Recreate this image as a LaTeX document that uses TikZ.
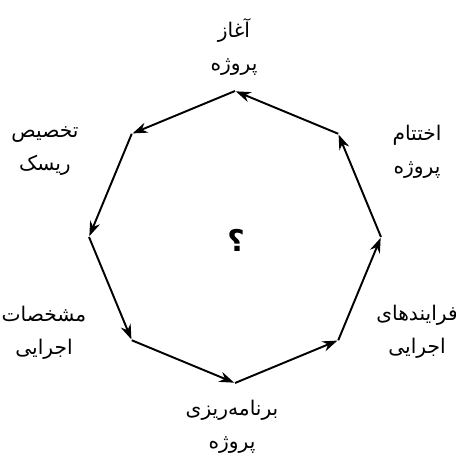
\documentclass[tikz,border=0pt]{standalone}
\usepackage{fontspec}
\newfontfamily\arabicfont[Script=Arabic]{DejaVu Sans}
\TeXXeTstate=1
\usetikzlibrary{arrows.meta}

\begin{document}
\begin{tikzpicture}[
    stage/.style={align=center, font=\arabicfont\fontsize{11.5}{18.5}\selectfont, inner sep=0pt},
    arr/.style={-{Stealth[length=8.5pt,width=6pt]}, line width=1.1pt, shorten >=0.5pt}
]
\useasboundingbox (-4.70,-4.34) rectangle (4.42,4.74);

% corners of the cycle
\coordinate (T) at (0,2.92);
\coordinate (UL) at (-2.065,2.065);
\coordinate (L) at (-2.92,0);
\coordinate (LL) at (-2.065,-2.065);
\coordinate (B) at (0,-2.92);
\coordinate (LR) at (2.065,-2.065);
\coordinate (R) at (2.92,0);
\coordinate (UR) at (2.065,2.065);

\node[stage] (start) at (-0.02,3.80) {\beginR آغاز\endR\\\beginR پروژه\endR};
\node[stage] (risk) at (-3.80,1.72) {\beginR تخصیص\endR\\\beginR ریسک\endR};
\node[stage] (spec) at (-3.82,-1.92) {\beginR مشخصات\endR\\\beginR اجرایی\endR};
\node[stage] (plan) at (-0.06,-3.80) {\beginR برنامه‌ریزی\endR\\\beginR پروژه\endR};
\node[stage] (proc) at (3.64,-1.90) {\beginR فرایندهای\endR\\\beginR اجرایی\endR};
\node[stage] (close) at (3.64,1.70) {\beginR اختتام\endR\\\beginR پروژه\endR};
\node[font=\arabicfont\bfseries\fontsize{17}{19}\selectfont] (q) at (0.02,-0.06) {؟};

\draw[arr] (T) -- (UL);
\draw[arr] (UL) -- (L);
\draw[arr] (L) -- (LL);
\draw[arr] (LL) -- (B);
\draw[arr] (B) -- (LR);
\draw[arr] (LR) -- (R);
\draw[arr] (R) -- (UR);
\draw[arr] (UR) -- (T);
\end{tikzpicture}
\end{document}
